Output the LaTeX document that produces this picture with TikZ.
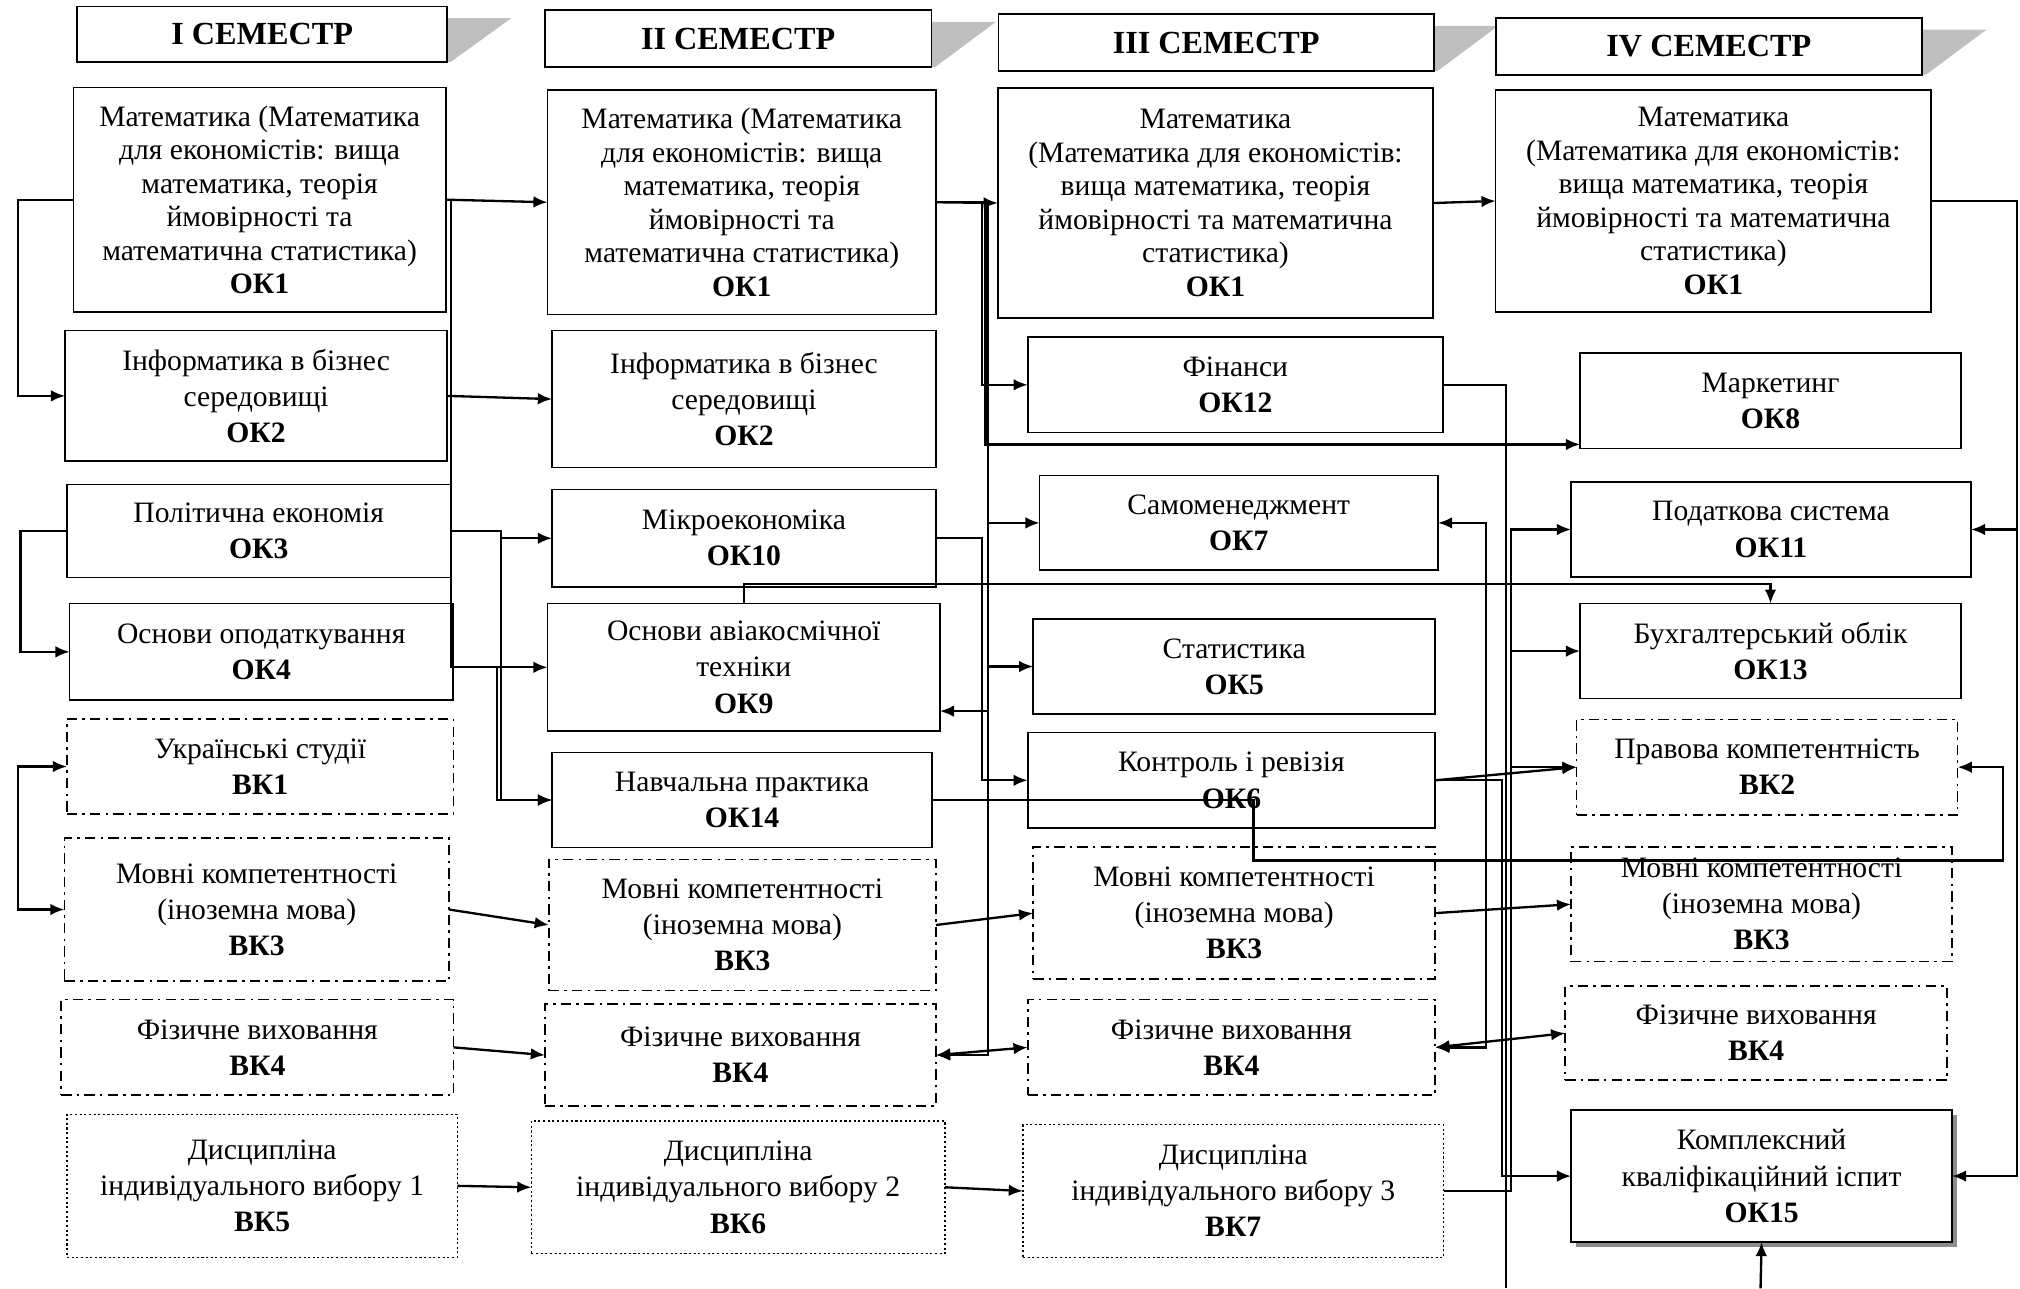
\documentclass[tikz,border=0pt]{standalone}
\usepackage{fontspec}
\setmainfont{Liberation Serif}
\usetikzlibrary{arrows.meta,shadows,backgrounds}

\begin{document}
\begin{tikzpicture}[x=0.5pt, y=-0.5pt, inner sep=1pt, outer sep=0pt,
  boxsize/.style 2 args={minimum width=#1*0.5pt, minimum height=#2*0.5pt},
  box/.style={draw=black, line width=0.6pt, align=center, font=\fontsize{11.5}{14}\selectfont},
  mathbox/.style={box, font=\fontsize{11.5}{13}\selectfont},
  optbox/.style={box, dash pattern=on 4pt off 2pt on 1pt off 2pt},
  freebox/.style={box, dash pattern=on 0.8pt off 1pt},
  semester/.style={draw=black, line width=0.7pt, font=\fontsize{12.5}{14}\selectfont\bfseries},
  tip/.tip={Latex[length=5.5pt,width=4.5pt]},
  link/.style={draw=black, line width=0.9pt},
  conn/.style={link, -tip},
  twoway/.style={link, tip-tip}]

  \useasboundingbox (0,0) rectangle (1568,1000);

  % semesters
  \node[semester, boxsize={287}{43}] (hdrA) at (203.5,26.5) {I СЕМЕСТР};
  \node[semester, boxsize={300}{44}] (hdrB) at (573,30) {II СЕМЕСТР};
  \node[semester, boxsize={338}{44}] (hdrC) at (944,33) {III СЕМЕСТР};
  \node[semester, boxsize={331}{44}] (hdrD) at (1326.5,36) {IV СЕМЕСТР};

  \begin{scope}[on background layer]
    \foreach \h in {hdrA,hdrB,hdrC,hdrD}
      \fill[black!25] ([yshift=-4.5pt]\h.north east) -- ++(25pt,0) -- ([xshift=1.5pt]\h.south east) -- (\h.south east) -- cycle;
  \end{scope}

  % semester I
  \node[mathbox, boxsize={289}{174}] (mathA) at (201.5,155) {Математика (Математика\\для економістів: вища\\математика, теорія\\ймовірності та\\математична статистика)\\\textbf{ОК1}};
  \node[box, boxsize={296.5}{101.5}] (infA) at (198.8,307.3) {Інформатика в бізнес\\середовищі\\\textbf{ОК2}};
  \node[box, boxsize={297.5}{72.4}] (polA) at (200.8,412.2) {Політична економія\\\textbf{ОК3}};
  \node[box, boxsize={297.5}{75}] (taxA) at (202.8,506) {Основи оподаткування\\\textbf{ОК4}};
  \node[optbox, boxsize={300}{74}] (ukrA) at (202,595) {Українські студії\\\textbf{ВК1}};
  \node[optbox, boxsize={298.5}{111}] (langA) at (199.3,706) {Мовні компетентності\\(іноземна мова)\\\textbf{ВК3}};
  \node[optbox, boxsize={304.5}{74}] (sportA) at (199.8,813) {Фізичне виховання\\\textbf{ВК4}};
  \node[freebox, boxsize={303}{111}] (electA) at (203.5,920.5) {Дисципліна\\індивідуального вибору 1\\\textbf{ВК5}};

  % semester II
  \node[mathbox, boxsize={301.5}{174}] (mathB) at (575.8,157) {Математика (Математика\\для економістів: вища\\математика, теорія\\ймовірності та\\математична статистика)\\\textbf{ОК1}};
  \node[box, boxsize={298}{106.5}] (infB) at (577.5,309.8) {Інформатика в бізнес\\середовищі\\\textbf{ОК2}};
  \node[box, boxsize={298}{76}] (microB) at (577.5,417.8) {Мікроекономіка\\\textbf{ОК10}};
  \node[box, boxsize={304.5}{99}] (aeroB) at (577.3,518) {Основи авіакосмічної\\техніки\\\textbf{ОК9}};
  \node[box, boxsize={295}{74}] (practB) at (576,621) {Навчальна практика\\\textbf{ОК14}};
  \node[optbox, boxsize={300.5}{102}] (langB) at (576.3,718) {Мовні компетентності\\(іноземна мова)\\\textbf{ВК3}};
  \node[optbox, boxsize={303.5}{79.3}] (sportB) at (574.8,819) {Фізичне виховання\\\textbf{ВК4}};
  \node[freebox, boxsize={321}{103}] (electB) at (573,921.6) {Дисципліна\\індивідуального вибору 2\\\textbf{ВК6}};

  % semester III
  \node[mathbox, boxsize={338}{178.8}] (mathC) at (943.5,157.6) {Математика\\(Математика для економістів:\\вища математика, теорія\\ймовірності та математична\\статистика)\\\textbf{ОК1}};
  \node[box, boxsize={322.3}{74}] (finC) at (958.9,298.7) {Фінанси\\\textbf{ОК12}};
  \node[box, boxsize={309.2}{73.3}] (selfC) at (961.6,405.9) {Самоменеджмент\\\textbf{ОК7}};
  \node[box, boxsize={312}{73.8}] (statC) at (958,517.4) {Статистика\\\textbf{ОК5}};
  \node[box, boxsize={316.3}{74}] (auditC) at (955.9,605.7) {Контроль і ревізія\\\textbf{ОК6}};
  \node[optbox, boxsize={312}{102.3}] (langC) at (958,708.8) {Мовні компетентності\\(іноземна мова)\\\textbf{ВК3}};
  \node[optbox, boxsize={316.3}{74}] (sportC) at (955.9,813) {Фізичне виховання\\\textbf{ВК4}};
  \node[freebox, boxsize={326.5}{103}] (electC) at (957.3,924.5) {Дисципліна\\індивідуального вибору 3\\\textbf{ВК7}};

  % semester IV
  \node[mathbox, boxsize={338}{172}] (mathD) at (1330,156) {Математика\\(Математика для економістів:\\вища математика, теорія\\ймовірності та математична\\статистика)\\\textbf{ОК1}};
  \node[box, boxsize={295.5}{74}] (markD) at (1374.3,311.2) {Маркетинг\\\textbf{ОК8}};
  \node[box, boxsize={310.3}{74}] (taxsysD) at (1374.7,411) {Податкова система\\\textbf{ОК11}};
  \node[box, boxsize={295.5}{73.6}] (accD) at (1374.3,505.4) {Бухгалтерський облік\\\textbf{ОК13}};
  \node[optbox, boxsize={295.7}{74}] (lawD) at (1371.7,595.5) {Правова компетентність\\\textbf{ВК2}};
  \node[optbox, boxsize={295.7}{88.6}] (langD) at (1367.4,701.9) {Мовні компетентності\\(іноземна мова)\\\textbf{ВК3}};
  \node[optbox, boxsize={296.4}{72.9}] (sportD) at (1363.2,802) {Фізичне виховання\\\textbf{ВК4}};
  \node[box, fill=white, drop shadow={shadow xshift=2pt, shadow yshift=-2pt, fill=black!45, opacity=1}, boxsize={295.7}{102.3}] (examD) at (1367.4,912.9) {Комплексний\\кваліфікаційний іспит\\\textbf{ОК15}};

  \coordinate (exitFin) at (1169,1000);
  \coordinate (entryExam) at (1366.6,1000);

  % semester I links
  \draw[conn] (mathA.west) -- (14,155) |- (infA.west);
  \draw[conn] (polA.west) -- (16,412.2) |- (taxA.west);
  \draw[twoway] (ukrA.west) -- (14,595) |- (langA.west);
  \draw[conn] (mathA.east) -- (mathB.west);
  \draw[conn] (mathA.east) -| (350,518) -- (aeroB.west);
  \draw[conn] (infA.east) -- (infB.west);
  \draw[conn] (polA.east) -- (389,412.2) |- (microB.west);
  \draw[conn] (polA.east) -- (389,412.2) |- (practB.west);
  \draw[conn] (taxA.east |- aeroB.west) -- (386,518) |- (practB.west);
  \draw[conn] (langA.east) -- (langB.west);
  \draw[conn] (sportA.east) -- (sportB.west);
  \draw[conn] (electA.east) -- (electB.west);

  % semester II links
  \draw[conn] (mathB.east) -- (mathC.west);
  \draw[conn] (mathB.east) -- (762,157) |- (finC.west);
  \draw[conn] (mathB.east) -- (765,157) |- (markD.west |- 0,345);
  \draw[conn] (mathB.east) -- (767,157) |- (selfC.west);
  \draw[conn] (mathB.east) -- (767,157) |- (statC.west);
  \draw[conn] (mathB.east) -- (767,157) |- (aeroB.east |- 0,552);
  \draw[conn] (mathB.east) -- (767,157) |- (sportB.east);
  \draw[conn] (microB.east) -- (762,417.8) |- (auditC.west);
  \draw[conn] (aeroB.north) |- (accD.north |- 0,453.4) -- (accD.north);
  \draw[conn] (practB.east) -- (973,621) |- (1555,668) |- (lawD.east);
  \draw[conn] (langB.east) -- (langC.west);
  \draw[twoway] (sportB.east) -- (sportC.west);
  \draw[conn] (electB.east) -- (electC.west);

  % semester III links
  \draw[conn] (mathC.east) -- (mathD.west);
  \draw[link] (finC.east) -| (exitFin);
  \draw[conn] (electC.east) -| (1173,411) -- (taxsysD.west);
  \draw[conn] (electC.east) -| (1173,505.4) -- (accD.west);
  \draw[conn] (electC.east) -| (1173,595.5) -- (lawD.west);
  \draw[conn] (auditC.east) -- (lawD.west);
  \draw[conn] (auditC.east) -- (1166,605.7) |- (examD.west);
  \draw[twoway] (sportC.east) -| (1153.5,405.9) -- (selfC.east);
  \draw[twoway] (sportC.east) -- (sportD.west);
  \draw[conn] (langC.east) -- (langD.west);

  % semester IV links
  \draw[conn] (mathD.east) -| (1565.7,912.9) -- (examD.east);
  \draw[conn] (mathD.east) -| (1565.7,411) -- (taxsysD.east);
  \draw[conn] (entryExam) -- (examD.south);

\end{tikzpicture}
\end{document}
